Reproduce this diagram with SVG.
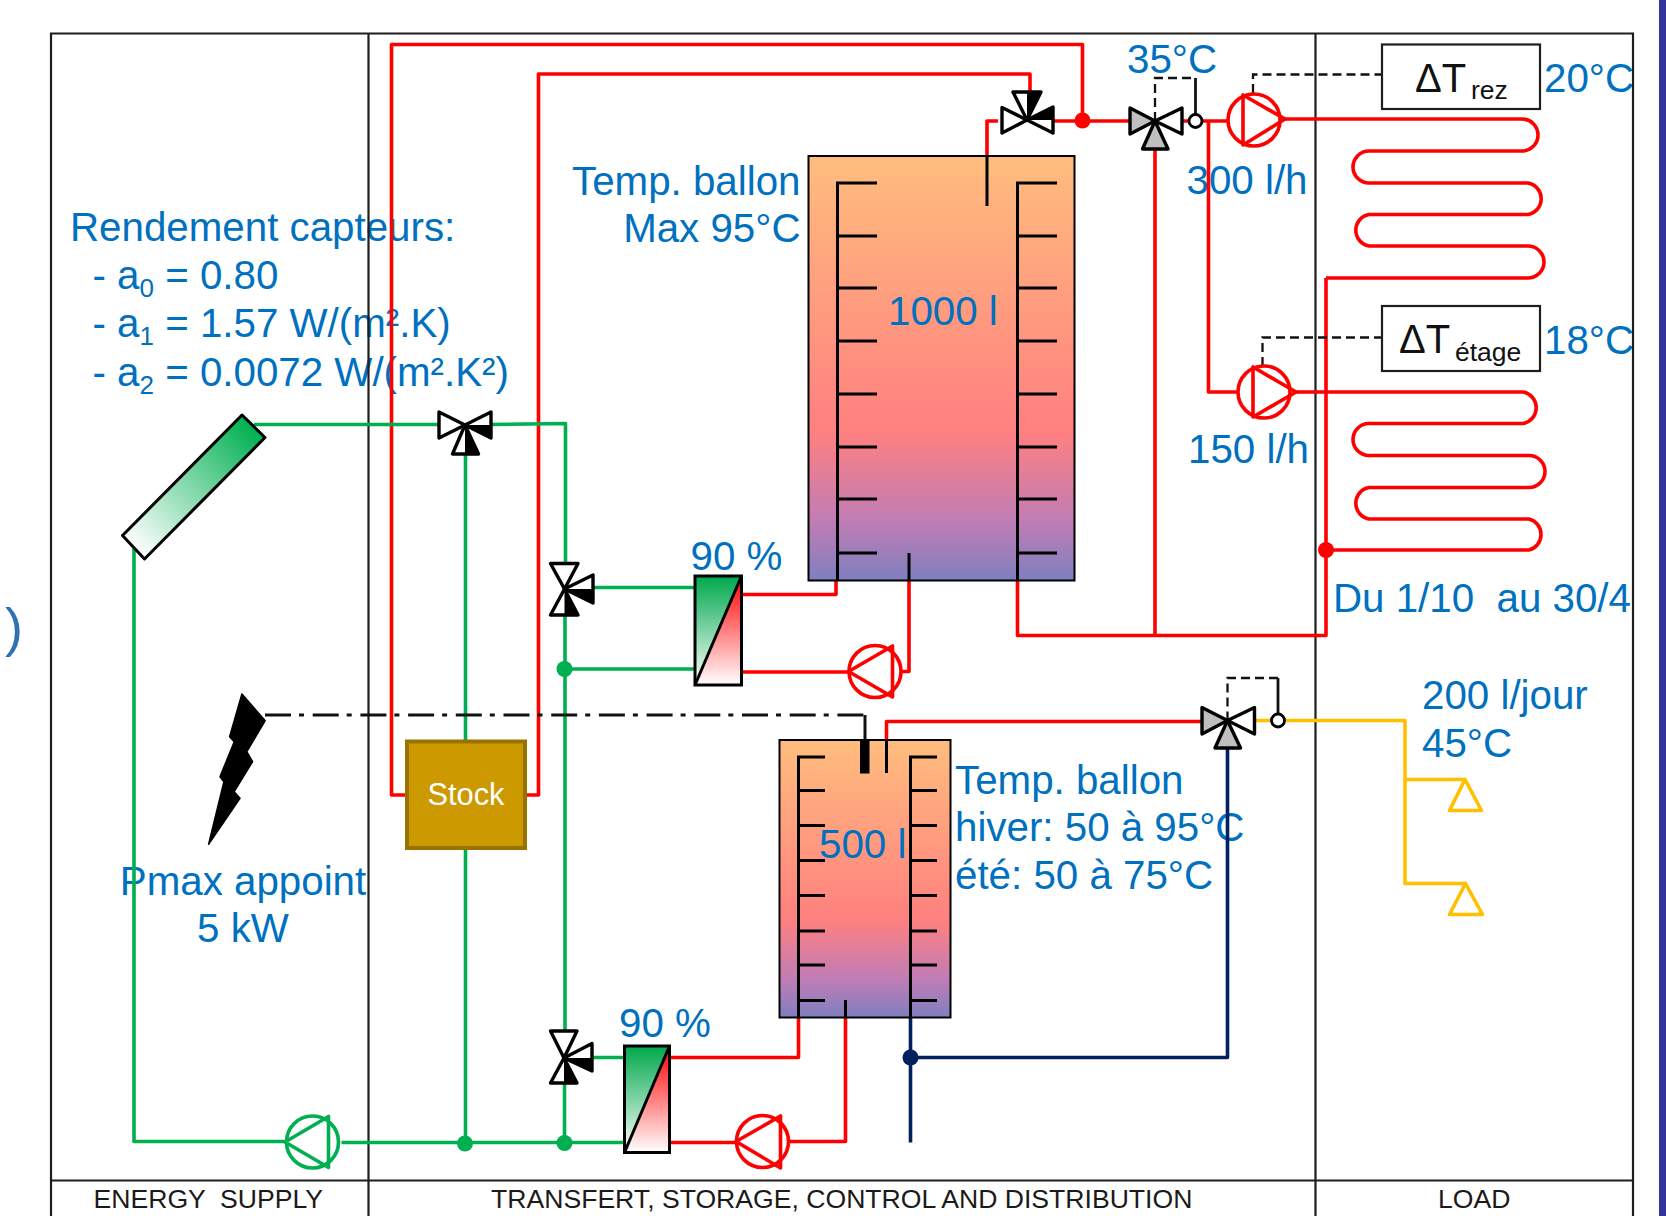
<svg xmlns="http://www.w3.org/2000/svg" width="1666" height="1216" viewBox="0 0 1666 1216">
<style>
text{font-family:"Liberation Sans",Arial,sans-serif}
.t{font-size:40.3px;fill:#0070c0}
.c{font-size:26.6px;fill:#1a1a1a}
.d{font-size:40px;fill:#111}
.s{font-size:26.5px;fill:#111}
.f{fill:none;stroke:#1e1e1e;stroke-width:2.2}
.p{fill:none;stroke-width:3.6;stroke-linejoin:round}
.r{stroke:#ff0000}.g{stroke:#00b050}.y{stroke:#ffc000}.n{stroke:#002060}
.k{fill:none;stroke:#000;stroke-width:3}
.ds{fill:none;stroke:#111;stroke-width:2.3;stroke-dasharray:9 5}
.v{fill:#fff;stroke:#000;stroke-width:3.4;stroke-linejoin:round}
.vg{fill:#bfbfbf;stroke:#000;stroke-width:3.4;stroke-linejoin:round}
.b{fill:#000}
.hx{fill:none;stroke:#000;stroke-width:3}
</style>
<defs>
<linearGradient id="tank" x1="0" y1="0" x2="0" y2="1"><stop offset="0" stop-color="#ffbd7d"/><stop offset="0.65" stop-color="#ff8080"/><stop offset="0.86" stop-color="#c07db5"/><stop offset="1" stop-color="#7f7fbf"/></linearGradient>
<linearGradient id="hg" x1="0" y1="0" x2="0" y2="1"><stop offset="0" stop-color="#00a84c"/><stop offset="1" stop-color="#ffffff"/></linearGradient>
<linearGradient id="hr" x1="0" y1="0" x2="0" y2="1"><stop offset="0" stop-color="#ff0000"/><stop offset="1" stop-color="#ffffff"/></linearGradient>
<linearGradient id="col" gradientUnits="userSpaceOnUse" x1="133" y1="547" x2="253" y2="426"><stop offset="0" stop-color="#ffffff"/><stop offset="1" stop-color="#00b050"/></linearGradient>
</defs>
<rect width="1666" height="1216" fill="#fff"/>
<rect x="1659" y="0" width="7" height="1216" fill="#333399"/>
<g id="labels">
<text x="5" y="646" font-size="54" fill="#2f72b5">)</text>
<text class="t" x="70" y="241">Rendement capteurs:</text>
<text class="t" x="92.5" y="288.5">- a<tspan font-size="26" dy="8">0</tspan><tspan dy="-8"> = 0.80</tspan></text>
<text class="t" x="92.5" y="337">- a<tspan font-size="26" dy="8">1</tspan><tspan dy="-8"> = 1.57 W/(m².K)</tspan></text>
<text class="t" x="92.5" y="385.5">- a<tspan font-size="26" dy="8">2</tspan><tspan dy="-8"> = 0.0072 W/(m².K²)</tspan></text>
<text class="t" x="800.5" y="194.5" text-anchor="end">Temp. ballon</text>
<text class="t" x="800.5" y="242" text-anchor="end">Max 95°C</text>
<text class="t" x="1127" y="73">35°C</text>
<text class="t" x="1186.5" y="194">300 l/h</text>
<text class="t" x="1188" y="463">150 l/h</text>
<text class="t" x="1544" y="92">20°C</text>
<text class="t" x="1544" y="354">18°C</text>
<text class="t" x="1333" y="612" xml:space="preserve">Du 1/10  au 30/4</text>
<text class="t" x="1422" y="709">200 l/jour</text>
<text class="t" x="1422" y="757">45°C</text>
<text class="t" x="955" y="793.5">Temp. ballon</text>
<text class="t" x="955" y="841">hiver: 50 à 95°C</text>
<text class="t" x="955" y="889">été: 50 à 75°C</text>
<text class="t" x="243" y="894.5" text-anchor="middle">Pmax appoint</text>
<text class="t" x="243" y="942" text-anchor="middle">5 kW</text>
<text class="t" x="690.5" y="570">90 %</text>
<text class="t" x="619" y="1037">90 %</text>
<text class="c" x="93.5" y="1208" xml:space="preserve">ENERGY  SUPPLY</text>
<text class="c" x="491" y="1208">TRANSFERT, STORAGE, CONTROL AND DISTRIBUTION</text>
<text class="c" x="1438" y="1208">LOAD</text>
</g>
<g id="frame">
<path class="f" d="M51 1216V33.5H1633V1216M368.5 33.5V1216M1315.5 33.5V1216M51 1180.5H1633"/>
</g>
<g id="connectors">
<path class="p r" d="M405 795H391.5V44.5H1082.5V121"/>
<path class="p r" d="M526 795H538.5V74H1030V92"/>
<path class="p r" d="M998 121H987V156"/>
<path class="p r" d="M1053 121H1130"/>
<path class="p r" d="M1182 121H1189M1202 121H1228M1208.5 121V392H1238"/>
<path class="p r" d="M1155 149V635.5M1017.5 581V635.5H1326V278"/>
<path class="p r" d="M1285 119H1522A16 16 0 0 1 1522 151H1369A16 16 0 0 0 1369 183H1528A16 16 0 0 1 1528 214.5H1369A16 16 0 0 0 1369 246H1528A16 16 0 0 1 1528 278H1326"/>
<path class="p r" d="M1296 392H1523A16 16 0 0 1 1523 423.5H1369A16 16 0 0 0 1369 455.5H1529A16 16 0 0 1 1529 487.5H1369A16 16 0 0 0 1369 519H1529A16 16 0 0 1 1529 550H1326"/>
<path class="p r" d="M742.5 594.5H836V581"/>
<path class="p r" d="M742.5 672H849M901 671.5H909V581"/>
<path class="p r" d="M669.5 1057.5H798.5V1018"/>
<path class="p r" d="M669.5 1142.5H736M789 1141.5H845.5V1018"/>
<path class="p r" d="M886.5 740V721.5H1202"/>
<path class="p g" d="M254 424.5H439M491 424.5L565.5 423.5V563.5M593 587.5H695M565 615V1031M565 669H695M593 1057.5H624.5M564.5 1083V1142"/>
<path class="p g" d="M134 548V1141.5H285M341.5 1142.5H624.5"/>
<path class="p g" d="M465.5 454V741M465.5 849V1143"/>
<path class="p y" d="M1255 720.5H1272M1285 720.5H1405V883.5H1465.5M1405 779.5H1465"/>
<path class="p n" d="M1227.5 748V1057.5H910.5M910.5 1018V1142.5"/>
<path class="ds" d="M1253 93V74.5H1382M1262.5 366V337.5H1382"/>
<path class="ds" d="M1155 121V78H1195.5M1227.5 720.5V678H1278"/>
<path fill="none" stroke="#111" stroke-width="2.8" d="M1195.5 115V78M1278 714V678"/>
<path fill="none" stroke="#111" stroke-width="3" stroke-dasharray="26 8 5 8.7" d="M265 715H865"/>
<path fill="none" stroke="#111" stroke-width="3" d="M865 715V742"/>
<circle cx="1082.5" cy="120.5" r="8" fill="#ff0000"/>
<circle cx="1326" cy="550" r="8" fill="#ff0000"/>
<circle cx="564.5" cy="669" r="8" fill="#00b050"/>
<circle cx="564.5" cy="1143" r="8" fill="#00b050"/>
<circle cx="465" cy="1143.5" r="8" fill="#00b050"/>
<circle cx="910.5" cy="1057.5" r="8" fill="#002060"/>
</g>
<g id="tank-1000">
<rect x="808.5" y="156" width="266" height="424.5" fill="url(#tank)" stroke="#000" stroke-width="2"/>
<path class="k" d="M877 183H837.5V581M837.5 236H877M837.5 288H877M837.5 341H877M837.5 394H877M837.5 447H877M837.5 499H877M837.5 553H877"/>
<path class="k" d="M1057 183H1017.5V581M1017.5 236H1057M1017.5 288H1057M1017.5 341H1057M1017.5 394H1057M1017.5 447H1057M1017.5 499H1057M1017.5 553H1057"/>
<path class="k" d="M987 156V206M909 581V553"/>
<text class="t" x="888" y="325">1000 l</text>
</g>
<g id="tank-500">
<rect x="779.5" y="740" width="171" height="277.5" fill="url(#tank)" stroke="#000" stroke-width="2"/>
<path class="k" d="M825 757H798.5V1018M798.5 790.5H825M798.5 825.5H825M798.5 860.5H825M798.5 895.5H825M798.5 931H825M798.5 965H825M798.5 1000.5H825"/>
<path class="k" d="M937 757H910.5V1018M910.5 790.5H937M910.5 825.5H937M910.5 860.5H937M910.5 895.5H937M910.5 931H937M910.5 965H937M910.5 1000.5H937"/>
<path class="k" d="M886.5 740V773M845.5 1018V1000"/>
<rect x="860" y="741" width="9.5" height="32.5" fill="#000"/>
<text class="t" x="819" y="857.5">500 l</text>
</g>
<g id="collector">
<polygon points="242,415 265,437.5 144.5,559 122.5,535.5" fill="url(#col)" stroke="#000" stroke-width="3" stroke-linejoin="round"/>
</g>
<g id="heater">
<polygon class="b" points="241.9,694 265.2,720.7 246.8,751.7 252.6,761.7 234.2,791.7 240,798.3 208.6,844.3 223.9,781.7 220,776.7 234.2,741.7 229.6,736.7" stroke="#000" stroke-width="1.5" stroke-linejoin="round"/>
</g>
<g id="stock">
<rect x="407" y="741.5" width="118" height="106.5" fill="#cc9900" stroke="#997300" stroke-width="4"/>
<text x="466" y="805" font-size="30.8" fill="#fff" text-anchor="middle">Stock</text>
</g>
<g id="valve-collector">
<polygon class="v" points="439,412 465,425 439,438"/><polygon class="v" points="491,412 465,425 491,438"/><polygon class="v" points="465,425 452.5,454 478.5,454"/>
<polygon class="b" points="491,425 465,425 491,438"/><polygon class="b" points="465,425 465,454 478.5,454"/>
</g>
<g id="valve-hx1">
<polygon class="v" points="550.5,563.5 578,563.5 564.5,589"/><polygon class="v" points="550.5,615 578,615 564.5,589"/><polygon class="v" points="593,575 593,603 564.5,589"/>
<polygon class="b" points="564.5,589 564.5,615 578,615"/><polygon class="b" points="564.5,589 593,589 593,603"/>
</g>
<g id="valve-hx2">
<polygon class="v" points="550.5,1031 577,1031 564,1058"/><polygon class="v" points="550.5,1083 577,1083 564,1058"/><polygon class="v" points="592,1043.5 592,1071 564,1058"/>
<polygon class="b" points="564,1058 564,1083 577,1083"/><polygon class="b" points="564,1058 592,1058 592,1071"/>
</g>
<g id="valve-top">
<polygon class="v" points="1002,107.5 1027,120 1002,133"/><polygon class="v" points="1053,107 1027,120 1053,133"/><polygon class="v" points="1013,92 1041,92 1027,120"/>
<polygon class="b" points="1053,107 1027,120 1053,120"/><polygon class="b" points="1027,92 1041,92 1027,120"/>
</g>
<g id="mixer-35">
<polygon class="vg" points="1130,108 1155,121 1130,134"/><polygon class="v" points="1182,108 1155,121 1182,134"/><polygon class="vg" points="1155,121 1142.5,149 1168,149"/>
<circle cx="1195.5" cy="121" r="6.5" fill="#fff" stroke="#000" stroke-width="2.8"/>
</g>
<g id="mixer-45">
<polygon class="vg" points="1202,707.5 1227.5,720.5 1202,734"/><polygon class="v" points="1254.5,707.5 1227.5,720.5 1254.5,734"/><polygon class="vg" points="1227.5,720.5 1215,748 1240.5,748"/>
<circle cx="1278" cy="720.5" r="6.5" fill="#fff" stroke="#000" stroke-width="2.8"/>
</g>
<g id="pump-rez" class="p r"><circle cx="1254" cy="120" r="26"/><polygon points="1243,95 1243,145 1285,119"/></g>
<g id="pump-etage" class="p r"><circle cx="1264" cy="392" r="26"/><polygon points="1253,367 1253,417 1296,392"/></g>
<g id="pump-hx1" class="p r"><circle cx="875" cy="671.5" r="26"/><polygon points="848.5,671.5 892.5,646 892.5,697"/></g>
<g id="pump-hx2" class="p r"><circle cx="762.5" cy="1141.5" r="26"/><polygon points="736,1141.5 780.5,1116 780.5,1168"/></g>
<g id="pump-solar" class="p g"><circle cx="312.5" cy="1142" r="26"/><polygon points="285,1142 328.5,1116.5 328.5,1167.5"/></g>
<g id="hx-1">
<polygon points="695,576 741.5,576 695,685" fill="url(#hg)"/><polygon points="741.5,576 741.5,685 695,685" fill="url(#hr)"/>
<rect x="695" y="576" width="46.5" height="109" class="hx"/><path class="hx" d="M695 685L741.5 576"/>
</g>
<g id="hx-2">
<polygon points="624.5,1046 669.5,1046 624.5,1152.5" fill="url(#hg)"/><polygon points="669.5,1046 669.5,1152.5 624.5,1152.5" fill="url(#hr)"/>
<rect x="624.5" y="1046" width="45" height="106.5" class="hx"/><path class="hx" d="M624.5 1152.5L669.5 1046"/>
</g>
<g id="dt-rez">
<rect x="1382" y="44.5" width="158" height="64.5" fill="#fff" stroke="#1e1e1e" stroke-width="2.2"/>
<text class="d" x="1415" y="91.5">ΔT</text><text class="s" x="1471" y="99">rez</text>
</g>
<g id="dt-etage">
<rect x="1382" y="306" width="158" height="65" fill="#fff" stroke="#1e1e1e" stroke-width="2.2"/>
<text class="d" x="1399" y="353">ΔT</text><text class="s" x="1455" y="360.5">étage</text>
</g>
<g id="taps" class="p y">
<polygon points="1465,779.5 1449.5,810.5 1481.5,810.5"/><polygon points="1465.5,883.5 1449.5,914.5 1482.5,914.5"/>
</g>
</svg>
